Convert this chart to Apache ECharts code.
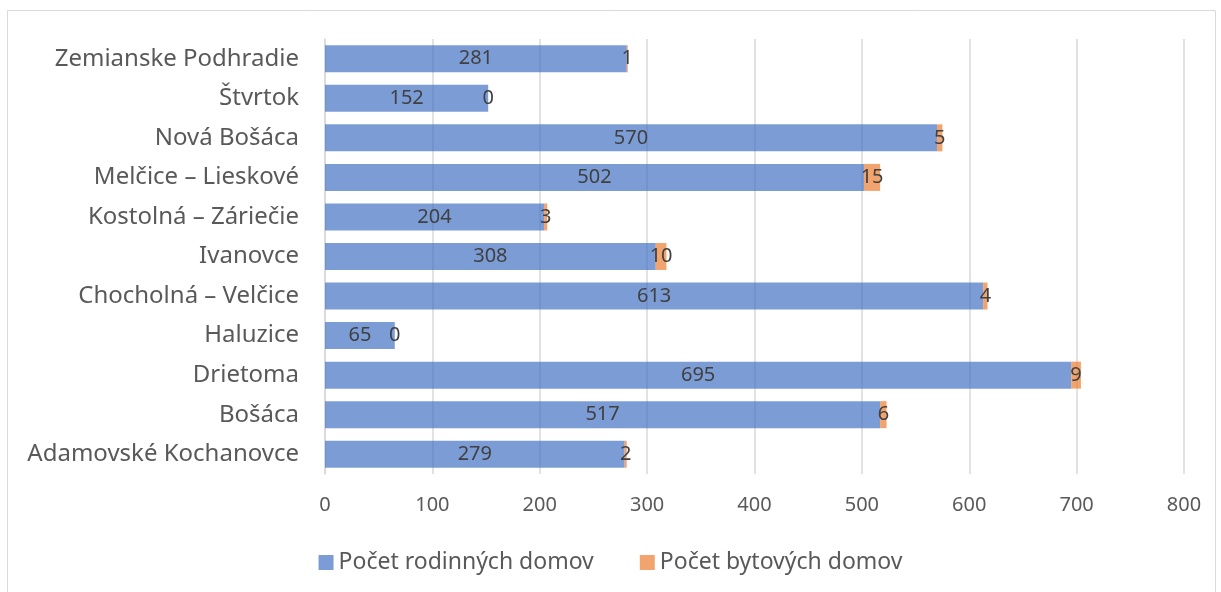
<!DOCTYPE html>
<html>
<head>
<meta charset="utf-8">
<script src="https://cdn.jsdelivr.net/npm/echarts@6/dist/echarts.min.js"></script>
<style>
  html, body { margin: 0; padding: 0; background: #fff; }
  #chart { width: 1221px; height: 592px; }
</style>
</head>
<body>
<div id="chart"></div>
<script>
// categories listed bottom to top, as on the y axis
const obce = ['Adamovské Kochanovce', 'Bošáca', 'Drietoma', 'Haluzice', 'Chocholná – Velčice',
  'Ivanovce', 'Kostolná – Záriečie', 'Melčice – Lieskové', 'Nová Bošáca', 'Štvrtok', 'Zemianske Podhradie']
const rodinne = [279, 517, 695, 65, 613, 308, 204, 502, 570, 152, 281]
const bytove = [2, 6, 9, 0, 4, 10, 3, 15, 5, 0, 1]
const seriesNames = ['Počet rodinných domov', 'Počet bytových domov']

const font = 'Noto Sans'
const chart = echarts.init(document.getElementById('chart'))

const labelStyle = {
  show: true,
  position: 'inside',
  color: '#404040',
  fontFamily: font,
  fontSize: 20,
  formatter: (p) => String(p.value)
}

chart.setOption({
  backgroundColor: '#fff',
  animation: false,
  graphic: [{
    type: 'rect',
    shape: { x: 7.5, y: 10.5, width: 1208, height: 600 },
    style: { fill: 'none', stroke: '#d9d9d9', lineWidth: 1 },
    silent: true
  }],
  grid: {
    left: 325,
    right: 37,
    top: 39,
    bottom: 118
  },
  legend: {
    bottom: 13,
    left: 'center',
    itemWidth: 15,
    itemHeight: 15,
    itemGap: 46,
    icon: 'rect',
    textStyle: { color: '#595959', fontFamily: font, fontSize: 23 },
    data: seriesNames
  },
  xAxis: {
    type: 'value',
    min: 0,
    max: 800,
    interval: 100,
    axisLine: { show: false },
    axisTick: { show: false },
    splitLine: { lineStyle: { color: '#d9d9d9', width: 1.5 } },
    axisLabel: { color: '#595959', fontFamily: font, fontSize: 20, margin: 21 }
  },
  yAxis: {
    type: 'category',
    data: obce,
    axisLine: { show: true, lineStyle: { color: '#d9d9d9', width: 1.5 } },
    axisTick: { show: false },
    axisLabel: { color: '#595959', fontFamily: font, fontSize: 24, margin: 26 }
  },
  series: [{
    name: seriesNames[0],
    type: 'bar',
    stack: 'domy',
    barWidth: 27,
    data: rodinne,
    itemStyle: { color: 'rgba(68, 114, 196, 0.7)' },
    label: labelStyle
  }, {
    name: seriesNames[1],
    type: 'bar',
    stack: 'domy',
    barWidth: 27,
    data: bytove,
    itemStyle: { color: 'rgba(237, 125, 49, 0.7)' },
    label: labelStyle
  }]
})
</script>
</body>
</html>
